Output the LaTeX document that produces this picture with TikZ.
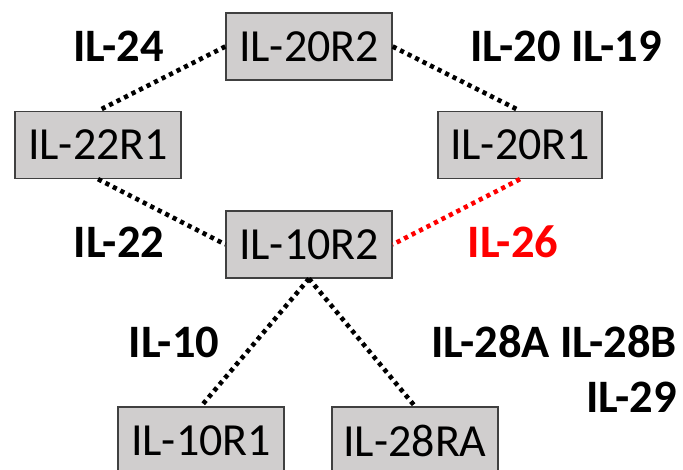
\documentclass[tikz,border=0pt]{standalone}
\usepackage{fontspec}
\setmainfont{Carlito}
\definecolor{boxfill}{HTML}{D0CECE}
\definecolor{boxline}{HTML}{404040}
\tikzset{
  rbox/.style={draw=boxline, line width=1.3pt, fill=boxfill, minimum width=166pt, minimum height=67pt, inner sep=0pt, font=\fontsize{46}{54}\selectfont},
  lbl/.style={anchor=base, inner sep=0pt, font=\fontsize{46.5}{54}\selectfont\bfseries},
  link/.style={line width=4.6pt, dash pattern=on 4.2pt off 4.2pt},
}
\begin{document}
\begin{tikzpicture}[x=1pt,y=-1pt]
\useasboundingbox (0,0) rectangle (683,470);
\clip (0,0) rectangle (683,470);
\node[rbox] (a) at (309,46.5) {IL-20R2};
\node[rbox] (b) at (98,145) {IL-22R1};
\node[rbox, minimum width=164pt] (c) at (520,145) {IL-20R1};
\node[rbox] (d) at (309,244.5) {IL-10R2};
\node[rbox] (e) at (201,440.5) {IL-10R1};
\node[rbox] (f) at (415,440.5) {IL-28RA};
\draw[link] (a.west) -- (b.north);
\draw[link] (a.east) -- (c.north);
\draw[link] (b.south) -- (d.west);
\draw[link, red] (c.south) -- (d.east);
\draw[link] (d.south) -- (e.north);
\draw[link] (d.south) -- (f.north);
\node[lbl] (l1) at (118.5,62) {IL-24};
\node[lbl] (l2) at (566,62) {IL-20 IL-19};
\node[lbl] (l3) at (119,258) {IL-22};
\node[lbl, text=red] (l4) at (513,258) {IL-26};
\node[lbl] (l5) at (174,358) {IL-10};
\node[lbl, anchor=base east] (l6) at (677,358) {IL-28A IL-28B};
\node[lbl, anchor=base east] (l7) at (677,412) {IL-29};
\end{tikzpicture}
\end{document}
